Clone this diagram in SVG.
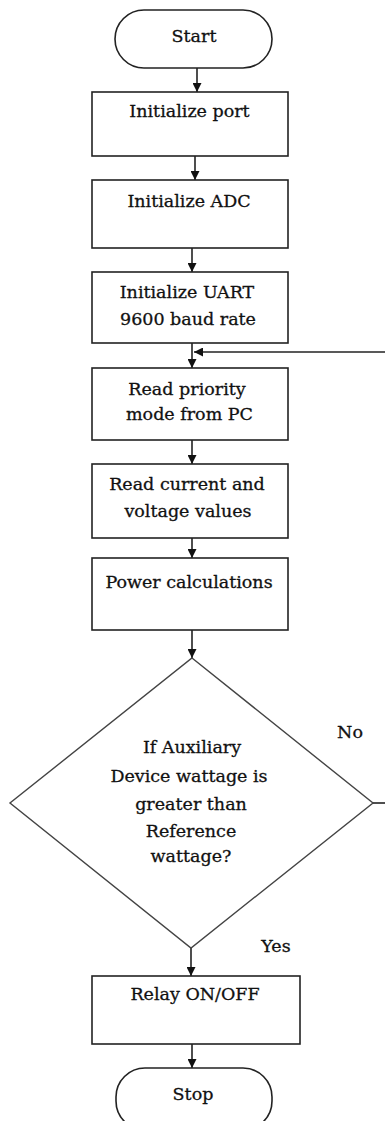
<svg xmlns="http://www.w3.org/2000/svg" width="385" height="1121" viewBox="0 0 385 1121">
<style>
.box{fill:#fff;stroke:#222;stroke-width:1.6}
.dia{fill:#fff;stroke:#444;stroke-width:1.4}
.t{font-family:"DejaVu Serif",serif;font-size:17.5px;fill:#111;stroke:#111;stroke-width:0.3;text-anchor:middle}
.c{stroke:#222;stroke-width:1.6;fill:none}
</style>
<defs>
<marker id="ah" viewBox="0 0 10 10" refX="10" refY="5" markerWidth="10" markerHeight="9" markerUnits="userSpaceOnUse" orient="auto">
<path d="M0,0 L10,5 L0,10 Z" fill="#111"/>
</marker>
</defs>
<rect width="385" height="1121" fill="#fff"/>
<g id="connectors">
<line class="c" x1="197" y1="68" x2="197" y2="92" marker-end="url(#ah)"/>
<line class="c" x1="195" y1="156" x2="195" y2="180" marker-end="url(#ah)"/>
<line class="c" x1="192" y1="248" x2="192" y2="272" marker-end="url(#ah)"/>
<line class="c" x1="192" y1="343" x2="192" y2="368" marker-end="url(#ah)"/>
<line class="c" x1="192" y1="440" x2="192" y2="464" marker-end="url(#ah)"/>
<line class="c" x1="192" y1="538" x2="192" y2="558" marker-end="url(#ah)"/>
<line class="c" x1="192" y1="630" x2="192" y2="658" marker-end="url(#ah)"/>
<line class="c" x1="191" y1="948" x2="191" y2="976" marker-end="url(#ah)"/>
<line class="c" x1="192" y1="1044" x2="192" y2="1068" marker-end="url(#ah)"/>
<line class="c" x1="373" y1="803" x2="386" y2="803"/>
<line class="c" x1="386" y1="352" x2="194" y2="352" marker-end="url(#ah)"/>
</g>
<g id="start">
<rect class="box" x="115" y="10" width="157" height="58" rx="29" ry="29"/>
<text class="t" x="194" y="42">Start</text>
</g>
<g id="init-port">
<rect class="box" x="92" y="92" width="196" height="64"/>
<text class="t" x="189.5" y="117">Initialize port</text>
</g>
<g id="init-adc">
<rect class="box" x="92" y="180" width="196" height="68"/>
<text class="t" x="189" y="207">Initialize ADC</text>
</g>
<g id="init-uart">
<rect class="box" x="92" y="272" width="196" height="71"/>
<text class="t" x="187" y="298">Initialize UART</text>
<text class="t" x="188" y="325">9600 baud rate</text>
</g>
<g id="read-priority">
<rect class="box" x="92" y="368" width="196" height="72"/>
<text class="t" x="187" y="395">Read priority</text>
<text class="t" x="189.5" y="420">mode from PC</text>
</g>
<g id="read-values">
<rect class="box" x="92" y="464" width="196" height="74"/>
<text class="t" x="187" y="490">Read current and</text>
<text class="t" x="188" y="517">voltage values</text>
</g>
<g id="power">
<rect class="box" x="92" y="558" width="196" height="72"/>
<text class="t" x="189" y="588">Power calculations</text>
</g>
<g id="decision">
<polygon class="dia" points="192,658 373,803 191,948 10,803"/>
<text class="t" x="192" y="753">If Auxiliary</text>
<text class="t" x="189" y="782">Device wattage is</text>
<text class="t" x="191" y="810">greater than</text>
<text class="t" x="191" y="837">Reference</text>
<text class="t" x="191" y="862">wattage?</text>
</g>
<g id="label-no"><text class="t" x="350" y="738">No</text></g>
<g id="label-yes"><text class="t" x="276" y="952">Yes</text></g>
<g id="relay">
<rect class="box" x="92" y="976" width="208" height="68"/>
<text class="t" x="195" y="1000">Relay ON/OFF</text>
</g>
<g id="stop">
<rect class="box" x="116" y="1068" width="156" height="62" rx="29" ry="29"/>
<text class="t" x="193" y="1100">Stop</text>
</g>
</svg>
